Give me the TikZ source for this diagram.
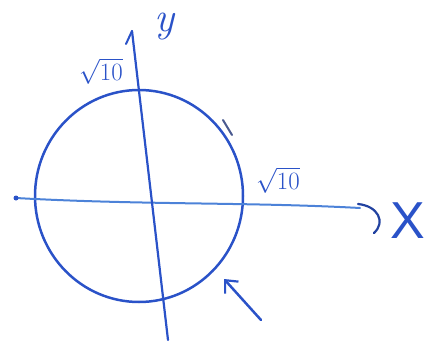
\documentclass[tikz,border=0pt]{standalone}
\usepackage{fontspec}
\usetikzlibrary{arrows.meta}
\newfontfamily\handFont{Liberation Sans}
\definecolor{penBlue}{HTML}{2A52C8}
\definecolor{axisBlue}{HTML}{4C82D8}
\definecolor{tickGrey}{HTML}{4A5A90}
\tikzset{
  penLine/.style={draw=penBlue, line width=2.5pt, line cap=round},
  axisLine/.style={draw=axisBlue, line width=2pt, line cap=round},
  barbTip/.style={-{Straight Barb[length=10pt, width=18pt, line width=2.2pt]}},
  handLabel/.style={text=penBlue, inner sep=0pt},
}
\begin{document}
\begin{tikzpicture}[x=1pt,y=-1pt]
  \useasboundingbox (0,0) rectangle (433,342);

  % circle
  \coordinate (centre) at (139,196);
  \draw[penLine] (centre) ellipse [x radius=104, y radius=106];

  % axes
  \coordinate (xStart) at (16,198);
  \coordinate (xEnd) at (360,208);
  \coordinate (yStart) at (168,340);
  \coordinate (yEnd) at (132,31);
  \draw[axisLine] (xStart) .. controls (140,205) and (250,202) .. (xEnd);
  \draw[penLine, line width=2.2pt] (yStart) -- (yEnd);
  \draw[penLine, line width=2pt] (yEnd) -- (126,44);
  \fill[penBlue] (xStart) circle (2.5pt);

  % hook at the x end
  \coordinate (hookA) at (358,204);
  \coordinate (hookB) at (374,233);
  \draw[draw=penBlue!80!black, line width=2.2pt, line cap=round]
    (hookA) .. controls (378,206) and (386,222) .. (hookB);

  % labels
  \node[handLabel, font=\fontsize{42}{42}\selectfont\itshape] (yLabel) at (164,27) {y};
  \node[handLabel, font=\handFont\fontsize{52}{52}\selectfont] (xLabel) at (408,221) {X};
  \node[handLabel, font=\fontsize{25}{25}\selectfont] (rootTop) at (101,71) {$\sqrt{10}$};
  \node[handLabel, font=\fontsize{25}{25}\selectfont] (rootRight) at (278,180) {$\sqrt{10}$};

  % small mark on the circle
  \coordinate (markA) at (223,120);
  \coordinate (markB) at (232,135);
  \draw[draw=tickGrey, line width=2pt, line cap=round] (markA) -- (markB);

  % pointer to the circle
  \coordinate (pointerTail) at (261,320);
  \coordinate (pointerTip) at (224,279);
  \draw[penLine, barbTip] (pointerTail) -- (pointerTip);
\end{tikzpicture}
\end{document}
